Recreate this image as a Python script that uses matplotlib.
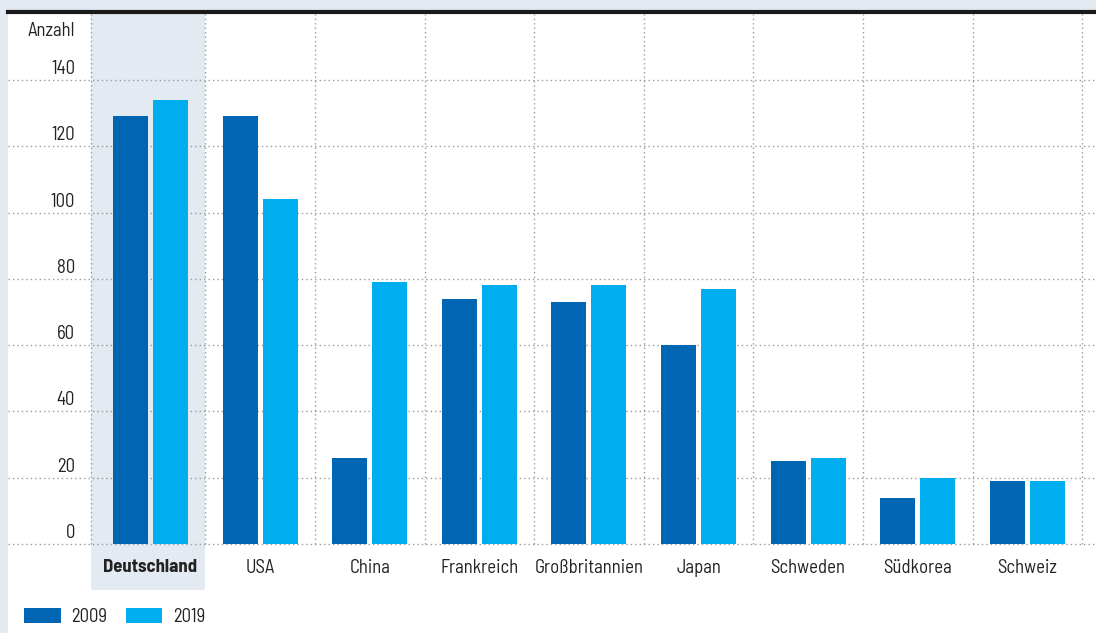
import matplotlib
matplotlib.use("Agg")
import matplotlib.pyplot as plt
from matplotlib.patches import Rectangle
from matplotlib.lines import Line2D

plt.rcParams['font.family'] = ['Barlow Semi Condensed', 'DejaVu Sans']

# data
countries = ["Deutschland", "USA", "China", "Frankreich", "Großbritannien",
             "Japan", "Schweden", "Südkorea", "Schweiz"]
y2009 = [129, 129, 26, 74, 73, 60, 25, 14, 19]
y2019 = [134, 104, 79, 78, 78, 77, 26, 20, 19]
yticks = [0, 20, 40, 60, 80, 100, 120, 140]

W, H = 1096, 633
bg = "#e3eaf1"
c09 = "#0066b3"
c19 = "#00aeef"
txt = "#222222"
fs = 13.5

fig = plt.figure(figsize=(W / 100, H / 100), dpi=100)
fig.patch.set_facecolor("white")

# light frame strips and black top rule
fig.add_artist(Rectangle((0, 0), 8 / W, 1, transform=fig.transFigure, color=bg, lw=0))
fig.add_artist(Rectangle((0, 1 - 10 / H), 1, 10 / H, transform=fig.transFigure, color=bg, lw=0))
fig.add_artist(Line2D([8 / W, 1], [1 - 12 / H, 1 - 12 / H], transform=fig.transFigure,
                      color="#1a1a1a", lw=3))

# axes: x from pixel 8 to 1096, y from 544 (value 0) to 14
ax = fig.add_axes([8 / W, 1 - 544 / H, 1 - 8 / W, (544 - 14) / H])
x0, step = 150.5, 109.6
ax.set_xlim((8 - x0) / step, (W - x0) / step)
ppu = (544 - 80) / 140
ax.set_ylim(0, (544 - 14) / ppu)
ax.axis("off")

# highlighted category band
ax.add_patch(Rectangle(((91 - x0) / step, -46 / ppu), 114 / step, (544 - 14 + 46) / ppu,
                       color=bg, lw=0, clip_on=False, zorder=0))

grid_kw = dict(color="#9a9a9a", lw=1, ls=(0, (1, 2.2)), zorder=1, clip_on=False)
for v in yticks:
    ax.axhline(v, **grid_kw)
    ax.text((75 - x0) / step, v + 0.6, str(v), ha="right", va="bottom",
            fontsize=fs, color=txt)
ax.axvline((91 - x0) / step, **grid_kw)
for i in range(1, len(countries) + 1):
    ax.axvline(i - 0.5, **grid_kw)
ax.text((75 - x0) / step, (544 - 31) / ppu, "Anzahl", ha="right", va="center",
        fontsize=fs, color=txt)

xs = list(range(len(countries)))
bw = 35 / step
off = 20 / step
b1 = ax.bar([x - off for x in xs], y2009, width=bw, color=c09, zorder=2, label="2009")
b2 = ax.bar([x + off for x in xs], y2019, width=bw, color=c19, zorder=2, label="2019")

for i, name in enumerate(countries):
    ax.text(i, -24 / ppu, name, ha="center", va="center", fontsize=fs, color=txt,
            fontweight="bold" if i == 0 else "normal", clip_on=False)

fig.legend(handles=[b1, b2], loc="lower left", bbox_to_anchor=(11 / W, -6 / H),
           ncol=2, frameon=False, fontsize=fs, handlelength=1.95, handleheight=0.9,
           handletextpad=0.55, columnspacing=1.0, labelcolor=txt,
           borderaxespad=0.3)

fig.savefig("out.png", dpi=100, facecolor=fig.get_facecolor())
